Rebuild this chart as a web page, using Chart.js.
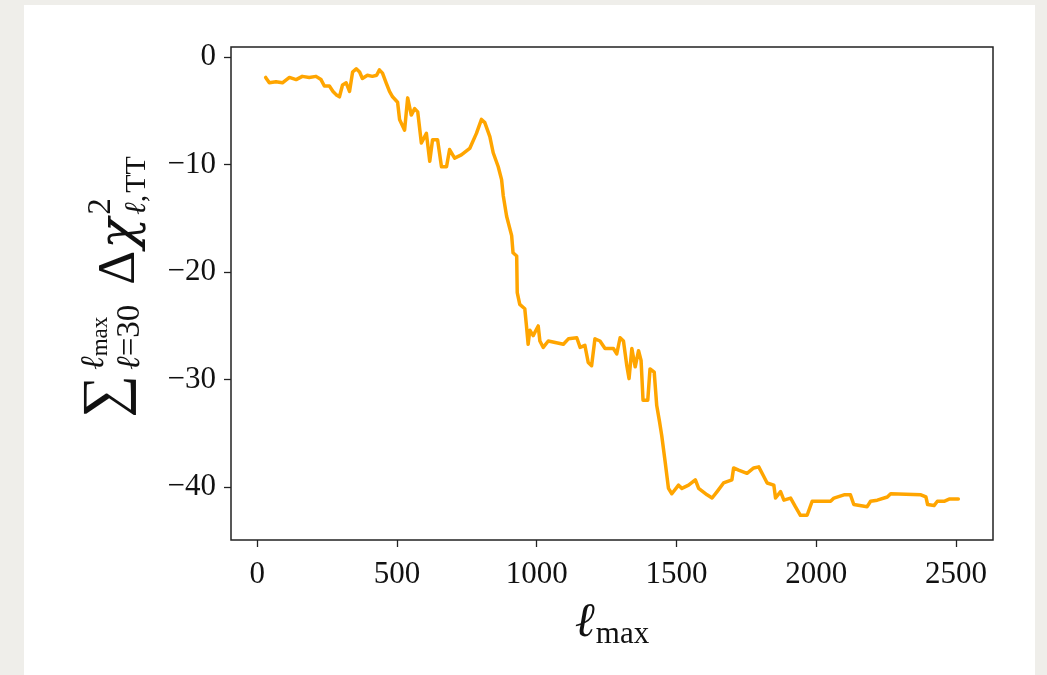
<!DOCTYPE html>
<html>
<head>
<meta charset="utf-8">
<script src="https://cdn.jsdelivr.net/npm/chart.js@4/dist/chart.umd.min.js"></script>
<style>
  html, body { margin: 0; padding: 0; }
  body { width: 1047px; height: 675px; background: #efeeea; position: relative; overflow: hidden; }
  #card { position: absolute; left: 24px; top: 5px; width: 1011px; height: 680px; background: #ffffff; }
  #c { position: absolute; left: 0; top: 0; }
</style>
</head>
<body>
<div id="card"></div>
<canvas id="c" width="1047" height="675"></canvas>
<script>
// ---- data ----
const lValues = [
  30,35,43,67,90,115,139,161,186,210,
  228,240,258,271,282,294,305,318,330,341,
  354,366,376,394,412,427,437,448,461,473,
  484,502,509,527,538,551,563,574,587,605,
  617,627,645,659,677,688,706,730,760,784,
  802,814,832,844,862,874,880,892,910,915,
  928,930,939,957,963,969,975,987,1005,1011,
  1023,1041,1095,1113,1143,1155,1172,1184,1196,1208,
  1226,1244,1274,1286,1298,1310,1322,1330,1340,1352,
  1364,1373,1380,1397,1405,1420,1429,1439,1447,1459,
  1471,1483,1507,1519,1543,1567,1579,1609,1627,1645,
  1668,1698,1704,1722,1752,1776,1794,1812,1824,1848,
  1854,1872,1884,1908,1925,1943,1967,1985,2051,2063,
  2099,2122,2134,2182,2194,2218,2254,2266,2374,2392,
  2398,2421,2433,2457,2475,2508
];
const cumDeltaChi2 = [
  -1.9,-2.1,-2.4,-2.3,-2.4,-1.9,-2.1,-1.8,-1.9,-1.8,
  -2.1,-2.7,-2.7,-3.2,-3.5,-3.7,-2.6,-2.4,-3.2,-1.4,
  -1.1,-1.4,-2.0,-1.7,-1.8,-1.7,-1.2,-1.5,-2.4,-3.2,
  -3.7,-4.2,-5.8,-6.8,-3.8,-5.4,-4.8,-5.1,-8.0,-7.1,
  -9.7,-7.7,-7.7,-10.2,-10.2,-8.6,-9.4,-9.1,-8.5,-7.1,
  -5.8,-6.1,-7.4,-8.9,-10.2,-11.4,-12.9,-14.8,-16.6,-18.2,
  -18.5,-21.9,-23.0,-23.4,-25.0,-26.7,-25.4,-25.9,-25.0,-26.4,
  -27.0,-26.4,-26.7,-26.2,-26.1,-27.0,-26.8,-28.4,-28.7,-26.2,
  -26.4,-27.1,-27.1,-27.6,-26.1,-26.4,-28.7,-29.9,-27.1,-28.8,
  -27.3,-28.2,-31.9,-31.9,-29.0,-29.3,-32.4,-33.9,-35.2,-37.6,
  -40.1,-40.6,-39.8,-40.1,-39.8,-39.3,-40.1,-40.7,-41.0,-40.4,
  -39.6,-39.3,-38.2,-38.4,-38.7,-38.2,-38.1,-39.0,-39.6,-39.8,
  -41.0,-40.4,-41.2,-41.0,-41.8,-42.6,-42.6,-41.3,-41.3,-41.0,
  -40.7,-40.7,-41.6,-41.8,-41.3,-41.2,-40.9,-40.6,-40.7,-40.9,
  -41.6,-41.7,-41.3,-41.3,-41.1,-41.1
];
const xTickValues = [0, 500, 1000, 1500, 2000, 2500];
const yTickValues = [-40, -30, -20, -10, 0];

const SERIF = "'Liberation Serif','DejaVu Serif',serif";

function fontOf(p) {
  return (p.italic ? 'italic ' : '') + p.size + 'px ' + (p.family || SERIF);
}
function drawRun(ctx, parts, x, y) {
  let cx = x;
  for (const p of parts) {
    ctx.font = fontOf(p);
    ctx.fillText(p.t, cx, y + (p.dy || 0));
    cx += ctx.measureText(p.t).width + (p.after || 0);
  }
  return cx - x;
}
function runWidth(ctx, parts) {
  let w = 0;
  for (const p of parts) {
    ctx.font = fontOf(p);
    w += ctx.measureText(p.t).width + (p.after || 0);
  }
  return w;
}

const frameAndTitles = {
  id: 'frameAndTitles',
  afterDraw(chart) {
    const ctx = chart.ctx;
    const a = chart.chartArea;
    ctx.save();
    ctx.strokeStyle = '#222';
    ctx.lineWidth = 1.5;
    ctx.strokeRect(a.left, a.top, a.right - a.left, a.bottom - a.top);
    ctx.fillStyle = '#111';
    ctx.textBaseline = 'alphabetic';
    ctx.textAlign = 'left';

    // x title: l_max
    const xParts = [{t: 'ℓ', size: 48, italic: true, after: 1}, {t: 'max', size: 31, dy: 7}];
    const xw = runWidth(ctx, xParts);
    drawRun(ctx, xParts, (a.left + a.right) / 2 - xw / 2, 636);

    // y title: sum_{l=30}^{l_max} Delta chi^2_{l,TT}
    ctx.translate(134, 287);
    ctx.rotate(-Math.PI / 2);
    const sumP = [{t: '∑', size: 60, dy: -11, after: 5}];
    const supA = [{t: 'ℓ', size: 33, italic: true}, {t: 'max', size: 23, dy: 4}];
    const subA = [{t: 'ℓ', size: 33, italic: true}, {t: '=', size: 33}, {t: '30', size: 33}];
    const mainP = [{t: 'Δ', size: 53, after: 2}, {t: 'χ', size: 51, italic: true, family: "'DejaVu Serif',serif"}];
    const supB = [{t: '2', size: 33}];
    const subB = [{t: 'ℓ', size: 30, italic: true}, {t: ',', size: 30, after: 2}, {t: 'TT', size: 30}];
    const wSum = runWidth(ctx, sumP);
    const wA = Math.max(runWidth(ctx, supA), runWidth(ctx, subA));
    const gap = 20;
    const wMain = runWidth(ctx, mainP);
    const wB = Math.max(runWidth(ctx, supB), runWidth(ctx, subB));
    const total = wSum + wA + gap + wMain + 3 + wB;
    let x = -total / 2;
    drawRun(ctx, sumP, x, 0); x += wSum;
    drawRun(ctx, supA, x, -31);
    drawRun(ctx, subA, x, 5);
    x += wA + gap;
    drawRun(ctx, mainP, x, 0); x += wMain + 3;
    drawRun(ctx, supB, x, -24);
    drawRun(ctx, subB, x, 11);
    ctx.restore();
  }
};

const points = lValues.map((l, i) => ({x: l, y: cumDeltaChi2[i]}));

new Chart(document.getElementById('c'), {
  type: 'line',
  data: {
    datasets: [{
      data: points,
      borderColor: '#ffa500',
      borderWidth: 3.5,
      pointRadius: 0,
      tension: 0,
      fill: false,
      borderJoinStyle: 'round',
      borderCapStyle: 'round'
    }]
  },
  options: {
    responsive: false,
    animation: false,
    events: [],
    layout: { padding: { top: 47, right: 54, left: 0, bottom: 0 } },
    plugins: { legend: { display: false }, tooltip: { enabled: false }, title: { display: false } },
    scales: {
      x: {
        type: 'linear',
        min: -94,
        max: 2632,
        border: { display: false },
        grid: { drawOnChartArea: false, drawTicks: true, tickLength: 7, tickColor: '#222', tickWidth: 1.3 },
        ticks: {
          color: '#111',
          font: { family: SERIF, size: 31 },
          padding: 9,
          maxRotation: 0,
          autoSkip: false,
          callback: v => String(v)
        },
        afterBuildTicks: s => { s.ticks = xTickValues.map(v => ({value: v})); },
        afterFit: s => { s.height = 135; s.paddingLeft = 0; s.paddingRight = 0; }
      },
      y: {
        type: 'linear',
        min: -44.9,
        max: 0.93,
        border: { display: false },
        grid: { drawOnChartArea: false, drawTicks: true, tickLength: 7, tickColor: '#222', tickWidth: 1.3 },
        ticks: {
          color: '#111',
          font: { family: SERIF, size: 31 },
          padding: 8,
          autoSkip: false,
          callback: v => (v < 0 ? '\u2212' + Math.abs(v) : String(v))
        },
        afterBuildTicks: s => { s.ticks = yTickValues.map(v => ({value: v})); },
        afterFit: s => { s.width = 231; s.paddingTop = 0; s.paddingBottom = 0; }
      }
    }
  },
  plugins: [frameAndTitles]
});
</script>
</body>
</html>
